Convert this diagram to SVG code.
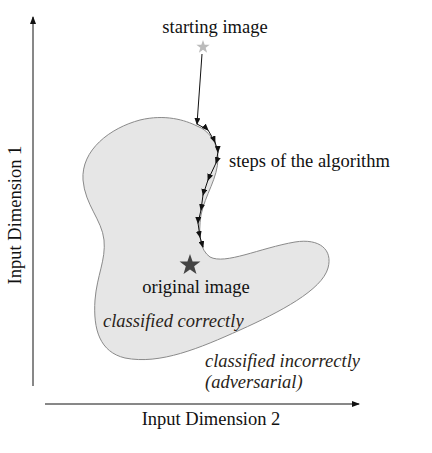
<svg xmlns="http://www.w3.org/2000/svg" width="432" height="453" viewBox="0 0 432 453">
<style>
text{font-family:"Liberation Serif","Times New Roman",serif;font-size:18.5px;fill:#111}
.it{font-style:italic;fill:#2a1f1a}
.ax{stroke:#111;stroke-width:1;fill:none}
.step{stroke:#111;stroke-width:1;fill:none}
</style>
<defs>
<marker id="ah" markerWidth="8" markerHeight="6" refX="7" refY="3" orient="auto" markerUnits="userSpaceOnUse"><path d="M0,0 L8,3 L0,6 Z" fill="#111"/></marker>
<marker id="sm" markerWidth="7" markerHeight="6" refX="6" refY="3" orient="auto" markerUnits="userSpaceOnUse"><path d="M0,0 L7,3 L0,6 Z" fill="#111"/></marker>
<path id="star" d="M0,-10 L2.35,-3.24 L9.51,-3.09 L3.8,1.24 L5.88,8.09 L0,4 L-5.88,8.09 L-3.8,1.24 L-9.51,-3.09 L-2.35,-3.24 Z"/>
</defs>
<g id="axes">
<line class="ax" x1="33" y1="386" x2="33" y2="17" marker-end="url(#ah)"/>
<line class="ax" x1="45" y1="404" x2="359" y2="404" marker-end="url(#ah)"/>
<text transform="translate(21,215) rotate(-90)" text-anchor="middle">Input Dimension 1</text>
<text x="211" y="425" text-anchor="middle">Input Dimension 2</text>
</g>
<g id="region">
<path d="M197,126 C208,130 218,142 218,158 C218,178 205,195 201,215 C198,235 200,250 210,257 C225,265 260,248 295,242 C320,238 333,250 328,268 C322,290 280,312 240,330 C200,348 160,365 125,358 C100,352 93,330 95,300 C97,275 106,260 104,240 C102,220 85,205 83,180 C81,150 110,128 140,120 C165,114 185,120 197,126 Z" fill="#e6e6e6" stroke="#8a8a8a" stroke-width="1"/>
<text class="it" x="103" y="327">classified correctly</text>
</g>
<g id="start">
<use href="#star" transform="translate(203,47) scale(0.7)" fill="#bbbbbb"/>
<text x="215" y="33" text-anchor="middle">starting image</text>
</g>
<g id="original">
<use href="#star" transform="translate(190,265) scale(1.1)" fill="#444"/>
<text x="196" y="293" text-anchor="middle">original image</text>
</g>
<g id="incorrect">
<text class="it" x="205" y="367">classified incorrectly</text>
<text class="it" x="205" y="388">(adversarial)</text>
</g>
<g id="steps-label"><text x="229" y="167">steps of the algorithm</text></g>
<g id="connectors">
<line class="step" x1="202" y1="54" x2="197" y2="124" marker-end="url(#sm)"/>
<polyline class="step" points="197,124 208,130 215,142 218,152 216,163 208,180 203,195 201,210 198,223 200,237 203,247" marker-mid="url(#sm)" marker-end="url(#sm)"/>
</g>
</svg>
